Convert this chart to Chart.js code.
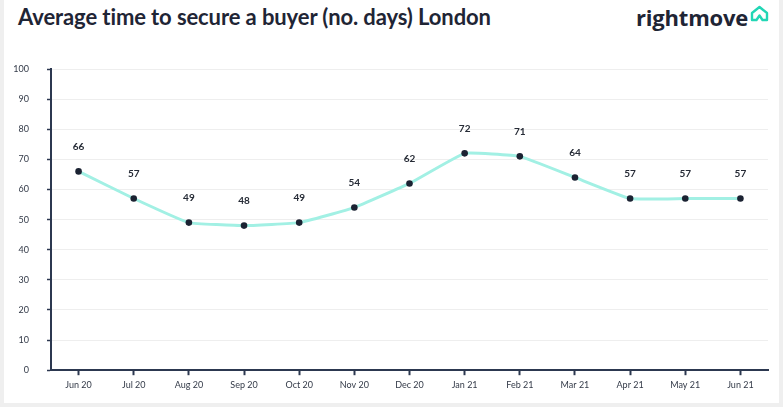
<!DOCTYPE html>
<html>
<head>
<meta charset="utf-8">
<title>Average time to secure a buyer (no. days) London</title>
<script src="https://cdn.jsdelivr.net/npm/chart.js@4"></script>
<style>
  html, body { margin: 0; padding: 0; background: #efefef; }
  body { width: 783px; height: 407px; position: relative; overflow: hidden; font-family: Lato, 'Open Sans', sans-serif; }
  .card { position: absolute; left: 4px; top: 0; width: 775px; height: 403px; background: #fff; }
  .title { position: absolute; left: 18px; top: 3px; font-size: 22px; font-weight: 700; color: #1f2535; letter-spacing: -0.1px; white-space: nowrap; }
  .logo { position: absolute; left: 636px; top: 2px; font-family: 'Open Sans', sans-serif; font-size: 22px; font-weight: 700; color: #1f2535; letter-spacing: -0.2px; white-space: nowrap; }
  .logo svg { position: absolute; left: 114px; top: 3px; }
  #chart { position: absolute; left: 0; top: 0; }
</style>
</head>
<body>
<div class="card"></div>
<div class="title">Average time to secure a buyer (no. days) London</div>
<div class="logo">rightmove<svg width="19" height="17" viewBox="0 0 19 17"><path d="M2 15 V8 L9.5 2 L17 8 V15 H12.5 L9.5 10.5 L6.5 15 Z" fill="none" stroke="#22d6b5" stroke-width="2.4" stroke-linejoin="round"/></svg></div>
<canvas id="chart" width="783" height="407"></canvas>
<script>
// values
const months = ['Jun 20', 'Jul 20', 'Aug 20', 'Sep 20', 'Oct 20', 'Nov 20', 'Dec 20',
  'Jan 21', 'Feb 21', 'Mar 21', 'Apr 21', 'May 21', 'Jun 21'];
const daysToSell = [66, 57, 49, 48, 49, 54, 62, 72, 71, 64, 57, 57, 57];
const yTicks = [0, 10, 20, 30, 40, 50, 60, 70, 80, 90, 100];

const navy = '#2c3850';

// numbers drawn above each point
const pointLabels = {
  id: 'pointLabels',
  afterDatasetsDraw(chart) {
    const ctx = chart.ctx;
    const meta = chart.getDatasetMeta(0);
    ctx.save();
    ctx.font = 'bold 10px Lato, sans-serif';
    ctx.fillStyle = '#262b36';
    ctx.textAlign = 'center';
    ctx.textBaseline = 'middle';
    meta.data.forEach((pt, i) => {
      ctx.fillText(String(daysToSell[i]), pt.x, pt.y - 25);
    });
    ctx.restore();
  },
};

new Chart(document.getElementById('chart'), {
  type: 'line',
  data: {
    labels: months,
    datasets: [{
      data: daysToSell,
      borderColor: '#a2f0e4',
      borderWidth: 3,
      tension: 0.1,
      pointRadius: 3.3,
      pointBackgroundColor: '#1b2232',
      pointBorderColor: '#1b2232',
      pointBorderWidth: 0,
    }],
  },
  options: {
    responsive: false,
    animation: false,
    layout: { padding: { top: 69, right: 15, bottom: 13, left: 0 } },
    plugins: {
      legend: { display: false },
      tooltip: { enabled: false },
    },
    scales: {
      x: {
        offset: true,
        grid: { drawOnChartArea: false, drawTicks: true, tickLength: 5, tickColor: navy, tickWidth: 2 },
        border: { color: navy, width: 2 },
        ticks: { color: '#333a48', font: { family: 'Lato, sans-serif', size: 9 }, padding: 4, maxRotation: 0 },
      },
      y: {
        min: 0,
        max: 100,
        afterFit(scale) { scale.width = 51; },
        afterBuildTicks(scale) { scale.ticks = yTicks.map((v) => ({ value: v })); },
        grid: { color: '#eeeeee', lineWidth: 1, tickLength: 4, tickColor: navy, tickWidth: 1.5 },
        border: { color: navy, width: 2 },
        ticks: { color: '#333a48', font: { family: 'Lato, sans-serif', size: 9 }, padding: 18 },
      },
    },
  },
  plugins: [pointLabels],
});
</script>
</body>
</html>
